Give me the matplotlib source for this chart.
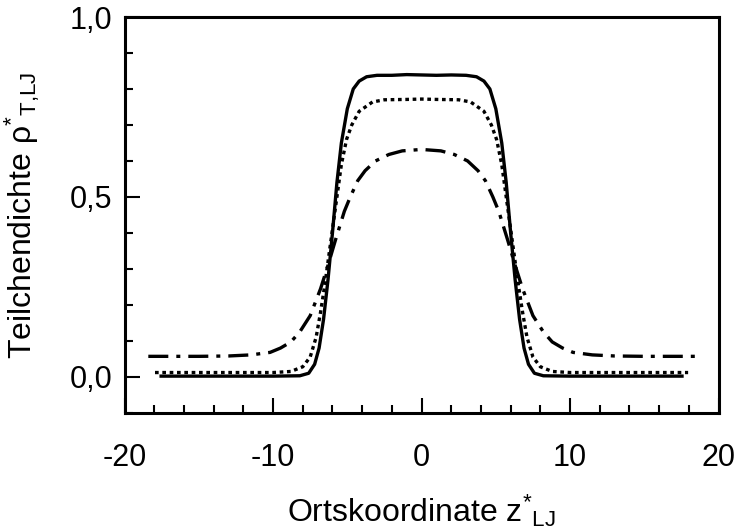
import matplotlib
matplotlib.use("Agg")
import matplotlib.pyplot as plt
from matplotlib.ticker import MultipleLocator

plt.rcParams["font.family"] = ["Liberation Sans", "DejaVu Sans"]
plt.rcParams["mathtext.fontset"] = "custom"
plt.rcParams["mathtext.rm"] = "Liberation Sans"
plt.rcParams["mathtext.it"] = "Liberation Sans"
plt.rcParams["mathtext.bf"] = "Liberation Sans:bold"

# density profiles
z_solid = [-17.65, -14.0, -10.0, -8.2, -7.6, -7.2, -6.9, -6.6, -6.3, -6.0, -5.7,
           -5.4, -5.0, -4.6, -4.2, -3.7, -3.0, -2.0, -1.0, 0.0, 1.0, 2.0, 3.0,
           3.7, 4.2, 4.6, 5.0, 5.4, 5.7, 6.0, 6.3, 6.6, 6.9, 7.2, 7.6, 8.2,
           10.0, 14.0, 17.65]
rho_solid = [0.002, 0.002, 0.002, 0.003, 0.010, 0.035, 0.080, 0.160, 0.270,
             0.400, 0.540, 0.650, 0.745, 0.800, 0.822, 0.834, 0.838, 0.838,
             0.840, 0.839, 0.838, 0.839, 0.838, 0.834, 0.822, 0.800, 0.745,
             0.650, 0.540, 0.400, 0.270, 0.160, 0.080, 0.035, 0.010, 0.003,
             0.002, 0.002, 0.002]

z_dot = [-17.95, -14.0, -10.0, -8.8, -8.0, -7.5, -7.1, -6.8, -6.5, -6.2, -5.8,
         -5.4, -5.05, -4.7, -4.2, -3.3, -2.5, -1.0, 0.0, 1.0, 2.5, 3.3, 4.2,
         4.7, 5.05, 5.4, 5.8, 6.2, 6.5, 6.8, 7.1, 7.5, 8.0, 8.8, 10.0, 14.0,
         17.95]
rho_dot = [0.012, 0.012, 0.012, 0.015, 0.028, 0.055, 0.110, 0.180, 0.260,
           0.350, 0.470, 0.590, 0.660, 0.700, 0.738, 0.764, 0.770, 0.771,
           0.772, 0.771, 0.770, 0.764, 0.738, 0.700, 0.660, 0.590, 0.470,
           0.350, 0.260, 0.180, 0.110, 0.055, 0.028, 0.015, 0.012, 0.012,
           0.012]

z_dashdot = [-18.4, -15.0, -13.0, -11.5, -10.2, -9.5, -8.8, -8.2, -7.5, -6.8,
             -6.3, -5.8, -5.2, -4.8, -4.3, -3.8, -3.1, -2.2, -1.3, 0.0, 1.3,
             2.2, 3.1, 3.8, 4.3, 4.8, 5.2, 5.8, 6.3, 6.8, 7.5, 8.2, 8.8, 9.5,
             10.2, 11.5, 13.0, 15.0, 18.4]
rho_dashdot = [0.057, 0.057, 0.058, 0.061, 0.068, 0.080, 0.097, 0.125, 0.170,
               0.245, 0.310, 0.380, 0.460, 0.500, 0.545, 0.573, 0.600, 0.618,
               0.628, 0.632, 0.628, 0.618, 0.600, 0.573, 0.545, 0.500, 0.460,
               0.380, 0.310, 0.245, 0.170, 0.125, 0.097, 0.080, 0.068, 0.061,
               0.058, 0.057, 0.057]

x_ticks = [-20, -10, 0, 10, 20]
x_tick_labels = ["-20", "-10", "0", "10", "20"]
y_ticks = [0.0, 0.5, 1.0]
y_tick_labels = ["0,0", "0,5", "1,0"]

fig = plt.figure(figsize=(7.37, 5.32), dpi=100)
ax = fig.add_axes([0.169, 0.224, 0.806, 0.744])

lw = 2.4
ax.plot(z_solid, rho_solid, color="black", lw=lw, linestyle="-",
        solid_capstyle="butt")
ax.plot(z_dot, rho_dot, color="black", lw=lw, linestyle=(0, (1.1, 1.1)))
ax.plot(z_dashdot, rho_dashdot, color="black", lw=lw,
        linestyle=(0, (6.0, 2.4, 1.2, 2.4)))

ax.set_xlim(-20, 20)
ax.set_ylim(-0.1, 1.0)

ax.set_xticks(x_ticks)
ax.set_xticklabels(x_tick_labels)
ax.set_yticks(y_ticks)
ax.set_yticklabels(y_tick_labels)
ax.xaxis.set_minor_locator(MultipleLocator(2))
ax.yaxis.set_minor_locator(MultipleLocator(0.1))

ax.tick_params(which="both", direction="in", top=False, right=False,
               width=1.5, labelsize=22)
ax.tick_params(axis="x", which="major", length=11, pad=22)
ax.tick_params(axis="y", which="major", length=11, pad=9)
ax.tick_params(which="minor", length=5.5)

for sp in ax.spines.values():
    sp.set_linewidth(2.2)

ax.set_xlabel(r"Ortskoordinate z$^{*}{}_{\mathrm{LJ}}$", fontsize=23,
              labelpad=14)
ax.set_ylabel(r"Teilchendichte ρ$^{*}{}_{\mathrm{T{,}LJ}}$", fontsize=23,
              labelpad=20)

fig.savefig("out.png", dpi=100)
